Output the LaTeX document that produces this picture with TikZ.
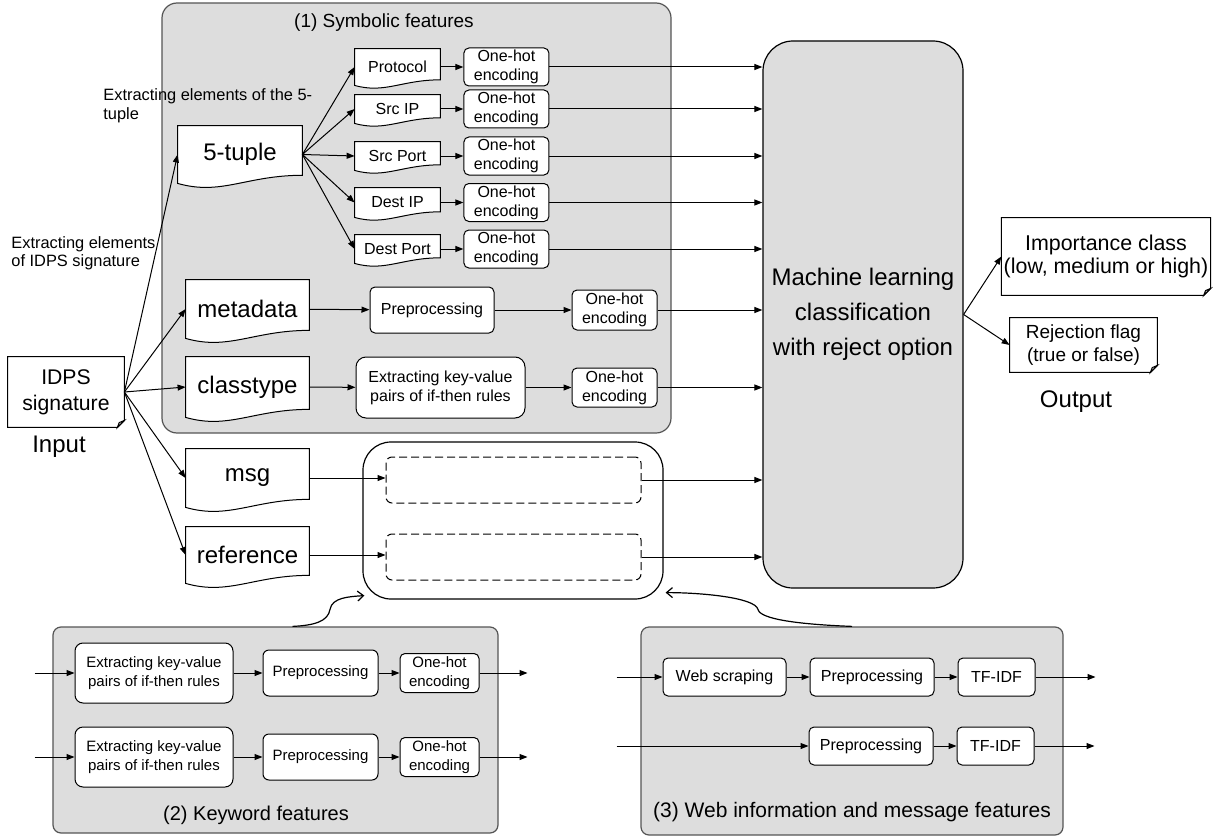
\documentclass[tikz,border=0pt]{standalone}
\usepackage{fontspec}
\setmainfont{Liberation Sans}
\usetikzlibrary{arrows.meta,calc,positioning}
\pgfdeclarelayer{back}
\pgfdeclarelayer{docs}
\pgfsetlayers{back,docs,main}
\definecolor{panelgray}{RGB}{221,221,221}
\definecolor{panelline}{RGB}{85,85,85}
\definecolor{foldgray}{RGB}{205,205,205}
\tikzstyle{panel} = [draw=panelline, fill=panelgray, line width=0.6pt]
\tikzstyle{title} = [inner sep=0pt, font=\fontsize{10}{12}\selectfont]
\tikzstyle{doc} = [inner sep=1pt, align=center, font=\fontsize{12}{14}\selectfont]
\tikzstyle{smalldoc} = [inner sep=1pt, font=\fontsize{8}{9.5}\selectfont]
\tikzstyle{note} = [inner sep=1pt, align=center]
\tikzstyle{block} = [draw, fill=white, rounded corners=2.5pt, align=center, inner sep=1pt, line width=0.5pt, font=\fontsize{8}{9.5}\selectfont]
\tikzstyle{dashedblock} = [draw, dash pattern=on 4pt off 2pt, rounded corners=3pt, line width=0.5pt]
\tikzstyle{mlbox} = [draw, fill=panelgray, rounded corners=15pt, align=center, line width=0.6pt, font=\fontsize{12}{17.5}\selectfont]
\tikzstyle{docline} = [draw, fill=white, line width=0.5pt]
\tikzstyle{arr} = [-{Triangle[length=4pt,width=3pt]}, line width=0.5pt]
\tikzstyle{link} = [-{Straight Barb[length=3pt,width=5pt]}, line width=0.6pt]
\tikzset{sz/.style 2 args={minimum width=#1*0.5pt, minimum height=#2*0.5pt}}

% document outline with a wavy bottom
\newcommand{\docshape}[1]{%
  \draw[docline] let \p1=(#1.south west), \p2=(#1.north east), \n1={\x2-\x1} in
    (\p1) -- (\x1,\y2) -- (\p2) -- (\x2,\y1+0.065*\n1)
    .. controls (\x2-0.45*\n1,\y1+0.065*\n1) and (\x1+0.35*\n1,\y1-0.1*\n1) .. (\p1) -- cycle;
}
% note with a folded corner
\newcommand{\noteshape}[1]{%
  \draw[docline] (#1.north west) -- (#1.north east) -- ([yshift=3.5pt]#1.south east)
    -- ([xshift=-3.5pt]#1.south east) -- (#1.south west) -- cycle;
  \draw[docline, fill=foldgray] ([yshift=3.5pt]#1.south east) -- ([xshift=-3.5pt]#1.south east)
    -- ([xshift=-2.6pt,yshift=2.4pt]#1.south east) -- cycle;
}

\begin{document}
\begin{tikzpicture}[x=0.5pt, y=-0.5pt]
\useasboundingbox (0,0) rectangle (1220,840);

% feature panels
\begin{pgfonlayer}{back}
  \node[panel, rounded corners=7.5pt, sz={509}{430}] (sympanel) at (416.5,218) {};
  \node[panel, rounded corners=4pt, sz={445}{206}] (kwpanel) at (275.5,730) {};
  \node[panel, rounded corners=4pt, sz={422}{208}] (webpanel) at (852,731) {};
\end{pgfonlayer}
\node[title, font=\fontsize{9.5}{11}\selectfont] (symtitle) at (384,23) {(1) Symbolic features};
\node[title] (kwtitle) at (256,815) {(2) Keyword features};
\node[title, font=\fontsize{10.5}{12}\selectfont] (webtitle) at (852,812) {(3) Web information and message features};

% input
\node[note, sz={116}{70}, font=\fontsize{10.6}{13}\selectfont] (idps) at (66,392) {IDPS\\signature};
\node[font=\fontsize{12}{14}\selectfont] (input) at (59,447) {Input};
\node[anchor=west, align=left, inner sep=0pt, font=\fontsize{8.2}{9.5}\selectfont] (extuple) at (103,105.5) {Extracting elements of the 5-\\tuple};
\node[anchor=west, align=left, inner sep=0pt, font=\fontsize{8.2}{9}\selectfont] (exidps) at (11,253) {Extracting elements\\of IDPS signature};

% signature elements
\node[doc, sz={124}{57}] (tuple) at (240,154.5) {5-tuple};
\node[doc, sz={123}{58}] (meta) at (247.5,309) {metadata};
\node[doc, sz={123}{60}] (ctype) at (247.5,387) {classtype};
\node[doc, sz={123}{58}] (msg) at (247.5,478) {msg};
\node[doc, sz={123}{56}] (ref) at (247.5,555) {reference};

% 5-tuple elements
\node[smalldoc, sz={85}{36}] (proto) at (397.5,67) {Protocol};
\node[smalldoc, sz={85}{28}] (srcip) at (397.5,109) {Src IP};
\node[smalldoc, sz={85}{28}] (srcport) at (397.5,156) {Src Port};
\node[smalldoc, sz={85}{29}] (destip) at (397.5,202.5) {Dest IP};
\node[smalldoc, sz={85}{28}] (destport) at (397.5,249) {Dest Port};
\foreach \e in {proto,srcip,srcport,destip,destport} {
  \node[block, sz={85}{38}, right=11.5pt of \e] (oh\e) {One-hot\\encoding};
}

\node[block, sz={124}{46}] (pp) at (432,310) {Preprocessing};
\node[block, sz={85}{40}, right=38.5pt of pp] (ohmeta) {One-hot\\encoding};
\node[block, sz={169}{61}, rounded corners=5pt] (kvp) at (440.5,387.5) {Extracting key-value\\pairs of if-then rules};
\node[block, sz={85}{39}, right=23pt of kvp] (ohctype) {One-hot\\encoding};

% keyword / web slots
\node[draw, fill=white, rounded corners=14pt, line width=0.6pt, sz={300}{157}] (slots) at (513,520.5) {};
\node[dashedblock, sz={255}{46}] (slotmsg) at (513.5,480) {};
\node[dashedblock, sz={255}{46}] (slotref) at (513.5,557) {};

% classifier and output
\node[mlbox, sz={200}{547}] (ml) at (863,314.5) {Machine learning\\classification\\with reject option};
\node[note, sz={208}{77}, font=\fontsize{10.7}{11.5}\selectfont] (imp) at (1106,256.5) {Importance class\\(low, medium or high)};
\node[note, sz={147}{54}, font=\fontsize{9.5}{11.5}\selectfont] (rej) at (1083.5,345) {Rejection flag\\(true or false)};
\node[font=\fontsize{12}{14}\selectfont] (output) at (1076,402) {Output};

% (2) keyword features
\node[block, sz={158}{60}, rounded corners=4pt, font=\fontsize{7.5}{9.5}\selectfont] (kx1) at (154,673) {Extracting key-value\\pairs of if-then rules};
\node[block, sz={115}{46}, rounded corners=3pt, font=\fontsize{7.5}{9.5}\selectfont, right=14.5pt of kx1] (kpp1) {Preprocessing};
\node[block, sz={79}{39}, font=\fontsize{7.5}{9.5}\selectfont, right=10.5pt of kpp1] (koh1) {One-hot\\encoding};
\node[block, sz={158}{60}, rounded corners=4pt, font=\fontsize{7.5}{9.5}\selectfont] (kx2) at (154,757) {Extracting key-value\\pairs of if-then rules};
\node[block, sz={115}{46}, rounded corners=3pt, font=\fontsize{7.5}{9.5}\selectfont, right=14.5pt of kx2] (kpp2) {Preprocessing};
\node[block, sz={79}{39}, font=\fontsize{7.5}{9.5}\selectfont, right=10.5pt of kpp2] (koh2) {One-hot\\encoding};

% (3) web information and message features
\node[block, sz={123}{38}] (scrape) at (724.5,677) {Web scraping};
\node[block, sz={124}{38}, right=11.5pt of scrape] (wpp1) {Preprocessing};
\node[block, sz={77}{38}, right=11.5pt of wpp1] (tf1) {TF-IDF};
\node[block, sz={124}{38}] (wpp2) at (871,746) {Preprocessing};
\node[block, sz={77}{38}, right=11.5pt of wpp2] (tf2) {TF-IDF};

% document outlines
\begin{pgfonlayer}{docs}
  \foreach \d in {tuple,meta,ctype,msg,ref,proto,srcip,srcport,destip,destport} {\docshape{\d}}
  \foreach \n in {idps,imp,rej} {\noteshape{\n}}
\end{pgfonlayer}

% connectors
\foreach \d in {tuple,meta,ctype,msg,ref} {\draw[arr] (idps.east) -- (\d.west);}
\foreach \e in {proto,srcip,srcport,destip,destport} {
  \draw[arr] (tuple.east) -- (\e.west);
  \draw[arr] (\e) -- (oh\e);
  \draw[arr] (oh\e.east) -- (oh\e.east -| ml.west);
}
\draw[arr] (meta) -- (pp);
\draw[arr] (pp) -- (ohmeta);
\draw[arr] (ohmeta.east) -- (ohmeta.east -| ml.west);
\draw[arr] (ctype) -- (kvp);
\draw[arr] (kvp) -- (ohctype);
\draw[arr] (ohctype.east) -- (ohctype.east -| ml.west);
\draw[arr] (msg.east) -- (msg.east -| slotmsg.west);
\draw[arr] (ref.east) -- (ref.east -| slotref.west);
\draw[arr] (slotmsg.east) -- (slotmsg.east -| ml.west);
\draw[arr] (slotref.east) -- (slotref.east -| ml.west);
\draw[arr] (ml.east) -- (imp.west);
\draw[arr] (ml.east) -- (rej.west);

\draw[arr] ($(kx1.west)+(-40,0)$) -- (kx1);
\draw[arr] (kx1) -- (kpp1);
\draw[arr] (kpp1) -- (koh1);
\draw[arr] (koh1.east) -- +(48,0);
\draw[arr] ($(kx2.west)+(-40,0)$) -- (kx2);
\draw[arr] (kx2) -- (kpp2);
\draw[arr] (kpp2) -- (koh2);
\draw[arr] (koh2.east) -- +(48,0);

\draw[arr] ($(scrape.west)+(-46,0)$) -- (scrape);
\draw[arr] (scrape) -- (wpp1);
\draw[arr] (wpp1) -- (tf1);
\draw[arr] (tf1.east) -- +(60,0);
\draw[arr] ($(wpp2.west)+(-192,0)$) -- (wpp2);
\draw[arr] (wpp2) -- (tf2);
\draw[arr] (tf2.east) -- +(60,0);

% panels feeding the slots
\draw[link] ($(kwpanel.north)+(17,0)$) .. controls +(22,-1) and +(-2,12) .. ++(37.5,-17)
  .. controls +(2,-12) and +(-15,1) .. ($(slots.south west)+(2,-4)$);
\draw[link] (webpanel.north) .. controls +(-52,-2) and +(2,10) .. ++(-94,-17)
  .. controls +(-3,-12) and +(35,0) .. ($(slots.south east)+(2,-7)$);
\end{tikzpicture}
\end{document}
